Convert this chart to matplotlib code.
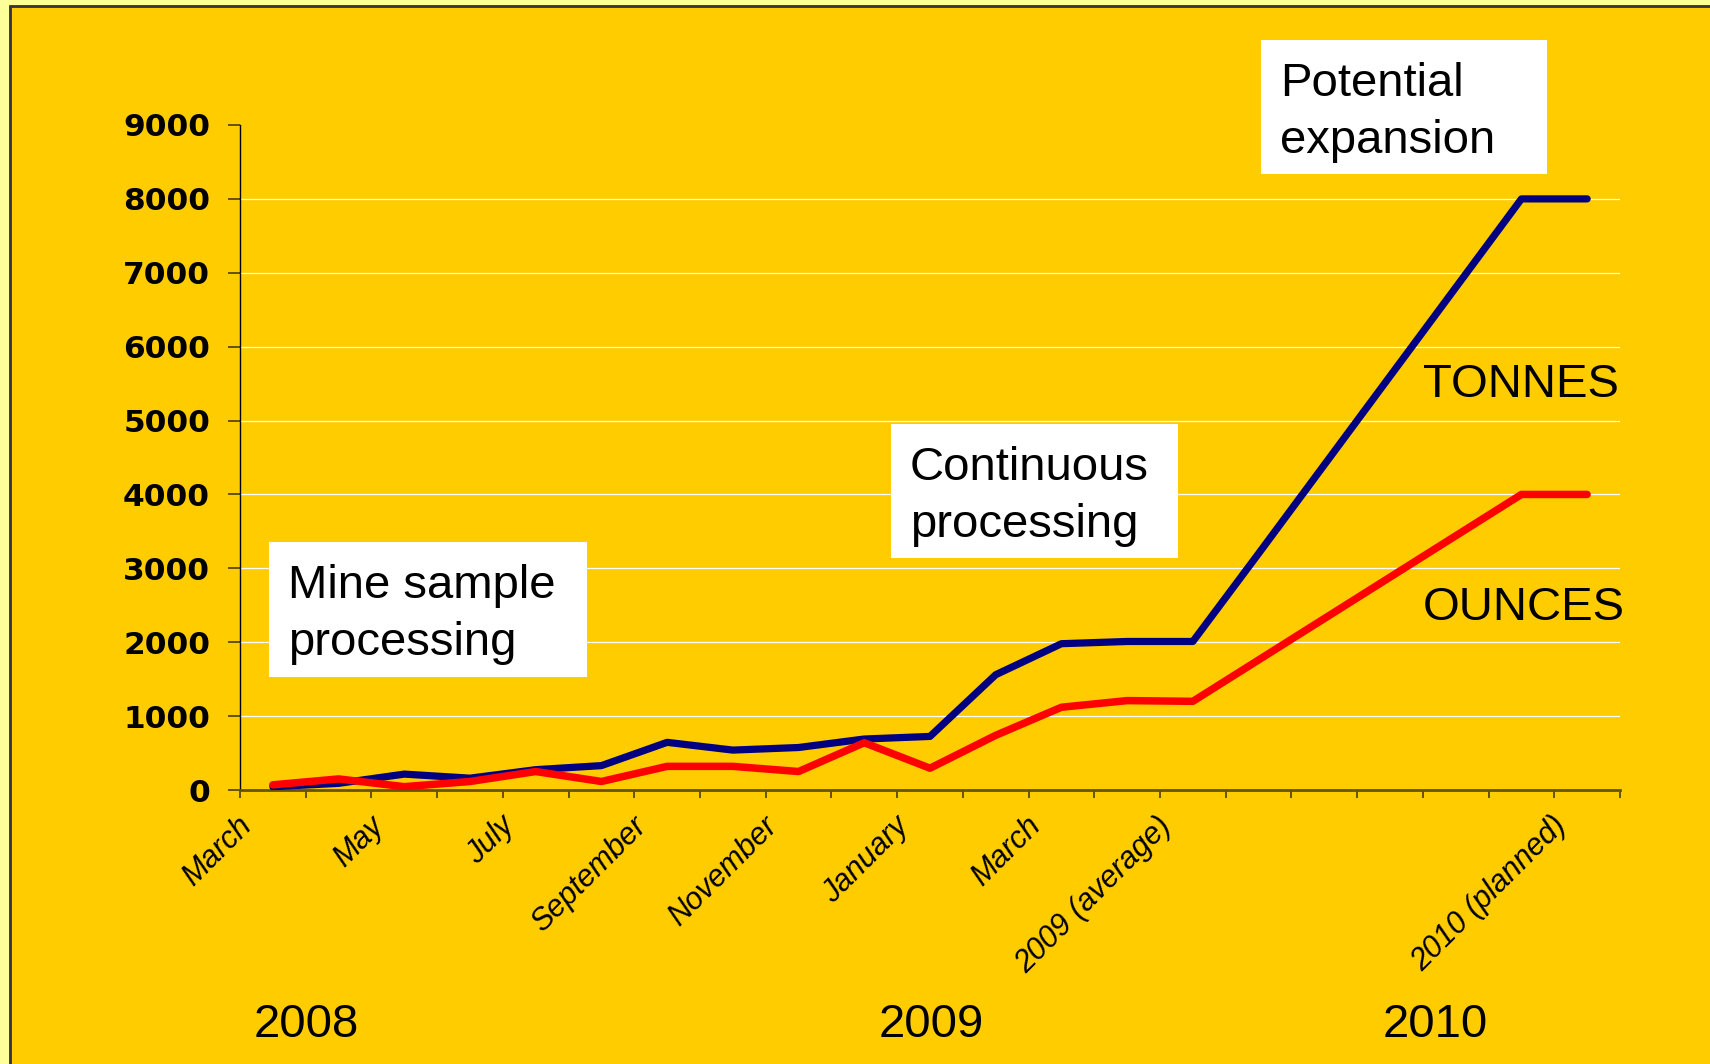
import numpy as np
import matplotlib.pyplot as plt
from matplotlib.patches import Rectangle
from matplotlib.transforms import ScaledTranslation

# chart data
categories = ['March', 'April', 'May', 'June', 'July', 'August', 'September',
              'October', 'November', 'December', 'January', 'February', 'March',
              'April', '2009 (average)', '', '', '', '', '', '2010 (planned)']
tonnes = [45, 90, 215, 160, 275, 330, 645, 540, 575, 690, 725, 1560, 1980,
          2010, 2010, 3200, 4400, 5600, 6800, 8000, 8000]
ounces = [70, 150, 45, 115, 250, 115, 320, 320, 250, 640, 295, 740, 1120,
          1210, 1200, 1760, 2320, 2880, 3440, 4000, 4000]
yticks = [0, 1000, 2000, 3000, 4000, 5000, 6000, 7000, 8000, 9000]
years = ['2008', '2009', '2010']

W, H = 1710, 1064
bg = '#FFCC00'
fig = plt.figure(figsize=(W / 100, H / 100), dpi=100, facecolor='#FFFF99')

def fx(px):
    return px / W

def fy(py):
    return 1 - py / H

# slide panel with dark border
fig.patches.append(Rectangle((fx(10), -0.05), 1.2, fy(6) + 0.05,
                             transform=fig.transFigure, facecolor=bg,
                             edgecolor='#333333', lw=2, zorder=-5))

ax = fig.add_axes([fx(240), fy(790), (1620 - 240) / W, (790 - 125) / H])
ax.set_facecolor('none')
ax.set_zorder(1)

x = np.arange(len(categories))
for yv in yticks[1:-1]:
    ax.axhline(yv, color='white', lw=0.9, zorder=1)
ax.plot(x, tonnes, color='#000080', lw=5.2, solid_capstyle='round', zorder=3)
ax.plot(x, ounces, color='#FF0000', lw=5.4, solid_capstyle='round', zorder=4)

ax.set_xlim(-0.5, len(categories) - 0.5)
ax.set_ylim(0, 9000)
ax.spines['top'].set_visible(False)
ax.spines['right'].set_visible(False)
ax.spines['left'].set_color('black')
ax.spines['left'].set_linewidth(1)
ax.spines['bottom'].set_color('#665200')
ax.spines['bottom'].set_linewidth(2)

ax.set_yticks(yticks)
ax.set_yticklabels([str(v) for v in yticks], fontsize=22.5, fontweight='bold',
                   family='DejaVu Sans')
ax.tick_params(axis='y', length=8.6, width=1.2, color='#4d3d00', pad=13)

# tick marks between categories, labels at every other category centre
ax.set_xticks(np.arange(-0.5, len(categories)), minor=True)
ax.tick_params(axis='x', which='minor', length=6, width=1.2, color='#4d3d00')
ax.set_xticks(x[::2])
ax.set_xticklabels(categories[::2], fontsize=22, style='italic',
                   family='Liberation Sans', rotation=45, ha='right',
                   va='top', rotation_mode='anchor')
ax.tick_params(axis='x', which='major', length=0, pad=15)
off = ScaledTranslation(-0.36, 0, fig.dpi_scale_trans)
for lab in ax.get_xticklabels():
    lab.set_transform(lab.get_transform() + off)

font = dict(family='Liberation Sans', fontsize=34, color='black')

# white annotation boxes
boxes = [((269, 542, 587, 677), ['Mine sample', 'processing']),
         ((891, 424, 1178, 558), ['Continuous', 'processing']),
         ((1261, 40, 1547, 174), ['Potential', 'expansion'])]
for (x0, y0, x1, y1), lines in boxes:
    fig.patches.append(Rectangle((fx(x0), fy(y1)), fx(x1 - x0), (y1 - y0) / H,
                                 transform=fig.transFigure, facecolor='white',
                                 edgecolor='none', zorder=5))
    for i, line in enumerate(lines):
        fig.text(fx(x0 + 19), fy(y0 + 56 + 57 * i), line, va='baseline',
                 ha='left', zorder=6, **font)

fig.text(fx(1423), fy(397), 'TONNES', va='baseline', ha='left', **font)
fig.text(fx(1423), fy(620), 'OUNCES', va='baseline', ha='left', **font)

for px, yr in zip([254, 879, 1383], years):
    fig.text(fx(px), fy(1037), yr, va='baseline', ha='left', **font)

fig.savefig('out.png', dpi=100, facecolor=fig.get_facecolor())
